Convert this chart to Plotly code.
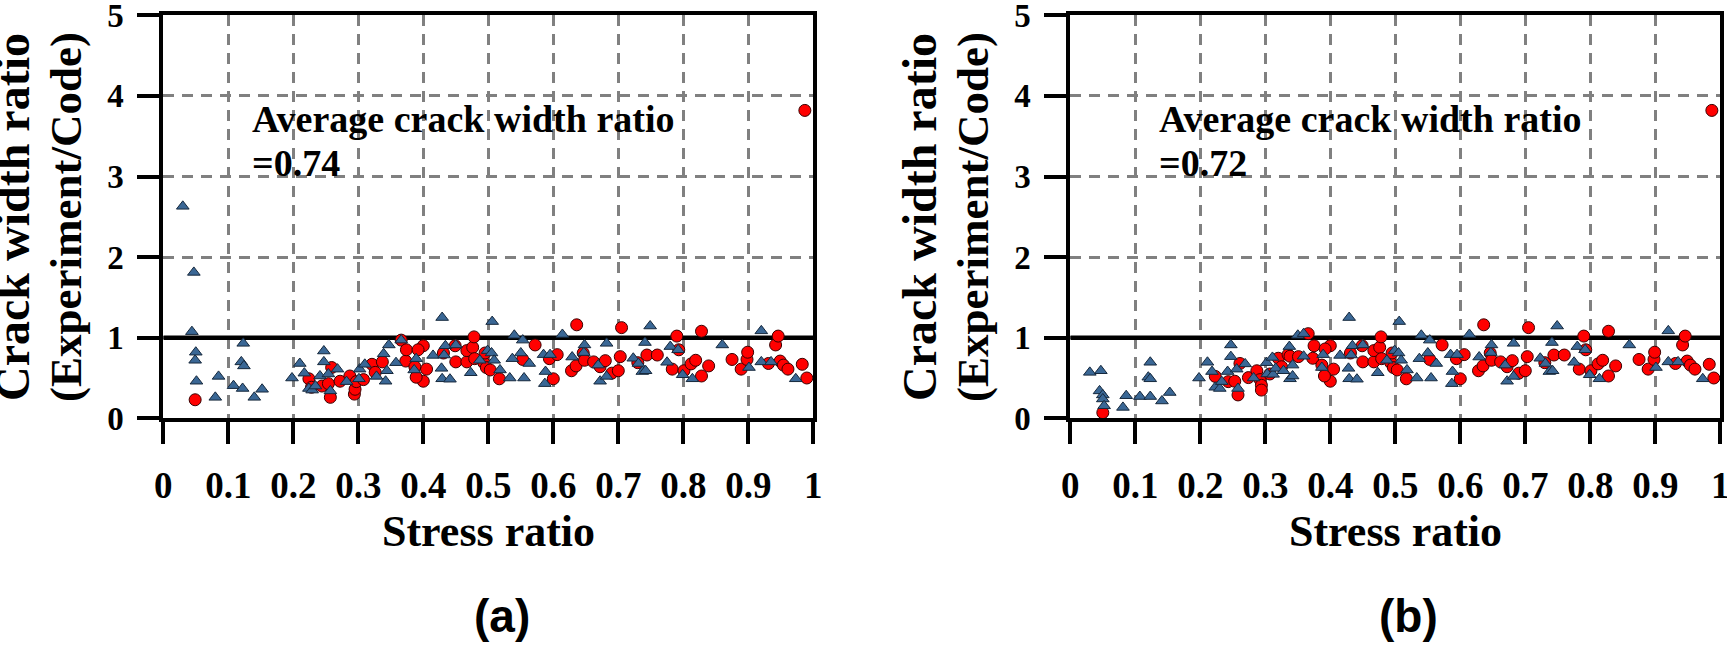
import plotly.graph_objects as go

# ---------------- data ----------------
# Points with stress ratio >= 0.40 are identical in both panels
tri_common_x = [0.415, 0.428, 0.429, 0.429, 0.432, 0.434, 0.441, 0.450, 0.473, 0.487,
                0.499, 0.505, 0.506, 0.509, 0.518, 0.533, 0.537, 0.540, 0.550, 0.553,
                0.555, 0.563, 0.585, 0.587, 0.588, 0.595, 0.614, 0.629, 0.647, 0.648,
                0.669, 0.672, 0.682, 0.682, 0.723, 0.731, 0.737, 0.741, 0.742, 0.749,
                0.775, 0.780, 0.792, 0.799, 0.814, 0.860, 0.901, 0.920, 0.920, 0.935,
                0.973]
tri_common_y = [0.78, 0.62, 0.49, 1.25, 0.785, 0.90, 0.485, 0.91, 0.565, 0.72,
                0.84, 0.81, 1.20, 0.72, 0.60, 0.50, 0.74, 1.03, 0.81, 0.97,
                0.50, 0.68, 0.79, 0.43, 0.58, 0.79, 1.04, 0.76, 0.815, 0.91,
                0.66, 0.46, 0.52, 0.93, 0.745, 0.68, 0.58, 0.94, 0.59, 1.145,
                0.695, 0.89, 0.85, 0.54, 0.49, 0.91, 0.63, 1.085, 0.70, 0.70,
                0.49]

circ_common_x = [0.400, 0.400, 0.405, 0.431, 0.449, 0.450, 0.467, 0.467, 0.476, 0.478,
                 0.479, 0.493, 0.495, 0.497, 0.503, 0.517, 0.553, 0.572, 0.594, 0.600,
                 0.606, 0.628, 0.635, 0.636, 0.646, 0.648, 0.662, 0.672, 0.680, 0.690,
                 0.700, 0.703, 0.705, 0.730, 0.744, 0.760, 0.783, 0.790, 0.793, 0.801,
                 0.812, 0.819, 0.828, 0.828, 0.839, 0.875, 0.889, 0.898, 0.899, 0.931,
                 0.942, 0.946, 0.949, 0.954, 0.961, 0.983, 0.990, 0.987]
circ_common_y = [0.90, 0.46, 0.61, 0.81, 0.90, 0.70, 0.70, 0.84, 0.88, 1.01,
                 0.74, 0.69, 0.81, 0.63, 0.60, 0.49, 0.73, 0.91, 0.74, 0.49,
                 0.79, 0.59, 0.65, 1.16, 0.81, 0.72, 0.70, 0.64, 0.715, 0.56,
                 0.59, 0.765, 1.125, 0.69, 0.785, 0.785, 0.61, 1.02, 0.85, 0.59,
                 0.675, 0.72, 1.08, 0.525, 0.65, 0.73, 0.61, 0.73, 0.82, 0.68,
                 0.91, 1.02, 0.71, 0.66, 0.61, 0.67, 0.50, 3.82]

# Panel (a), stress ratio < 0.40
tri_a_low_x = [0.030, 0.044, 0.047, 0.049, 0.050, 0.051, 0.080, 0.085, 0.108, 0.120,
               0.122, 0.123, 0.124, 0.140, 0.152, 0.198, 0.210, 0.217, 0.224, 0.229,
               0.234, 0.241, 0.247, 0.247, 0.254, 0.257, 0.268, 0.282, 0.301, 0.302,
               0.310, 0.328, 0.339, 0.342, 0.344, 0.347, 0.358, 0.366, 0.386, 0.389]
tri_a_low_y = [2.63, 1.075, 1.81, 0.72, 0.82, 0.46, 0.26, 0.52, 0.405, 0.70,
               0.37, 0.93, 0.65, 0.26, 0.36, 0.50, 0.68, 0.56, 0.37, 0.35,
               0.40, 0.525, 0.835, 0.70, 0.55, 0.34, 0.61, 0.455, 0.49, 0.61,
               0.67, 0.52, 0.80, 0.46, 0.59, 0.91, 0.69, 0.97, 0.60, 0.74]
circ_a_low_x = [0.049, 0.224, 0.228, 0.244, 0.254, 0.257, 0.259, 0.272, 0.287, 0.294,
                0.295, 0.297, 0.308, 0.321, 0.326, 0.337, 0.366, 0.373, 0.374, 0.387,
                0.389, 0.392]
circ_a_low_y = [0.23, 0.49, 0.385, 0.40, 0.43, 0.26, 0.63, 0.46, 0.525, 0.30,
                0.36, 0.455, 0.48, 0.67, 0.57, 0.70, 0.97, 0.71, 0.85, 0.64,
                0.51, 0.85]

# Panel (b), stress ratio < 0.40
tri_b_low_x = [0.030, 0.045, 0.047, 0.050, 0.050, 0.052, 0.081, 0.086, 0.107, 0.120,
               0.123, 0.123, 0.123, 0.141, 0.153, 0.198, 0.211, 0.218, 0.223, 0.230,
               0.233, 0.242, 0.247, 0.247, 0.256, 0.258, 0.269, 0.282, 0.302, 0.303,
               0.311, 0.312, 0.316, 0.328, 0.337, 0.338, 0.342, 0.342, 0.350, 0.359,
               0.359, 0.387, 0.389]
tri_b_low_y = [0.57, 0.34, 0.59, 0.29, 0.24, 0.155, 0.135, 0.28, 0.27, 0.51,
               0.49, 0.27, 0.695, 0.215, 0.32, 0.50, 0.695, 0.58, 0.385, 0.37,
               0.455, 0.58, 0.91, 0.765, 0.61, 0.37, 0.675, 0.50, 0.69, 0.55,
               0.755, 0.545, 0.62, 0.59, 0.89, 0.49, 0.66, 0.525, 1.03, 1.05,
               0.77, 0.63, 0.79]
circ_b_low_x = [0.050, 0.223, 0.243, 0.253, 0.258, 0.261, 0.274, 0.287, 0.292, 0.294,
                0.294, 0.307, 0.320, 0.325, 0.335, 0.338, 0.351, 0.366, 0.373, 0.375,
                0.387, 0.391, 0.392]
circ_b_low_y = [0.07, 0.52, 0.455, 0.46, 0.29, 0.68, 0.505, 0.59, 0.48, 0.41,
                0.35, 0.55, 0.745, 0.64, 0.79, 0.77, 0.765, 1.05, 0.745, 0.90,
                0.66, 0.525, 0.86]

panel_labels = ["(a)", "(b)"]
average_labels = ["=0.74", "=0.72"]
reference_ratio = 1.0
x_title = "Stress ratio"
y_title_lines = ["Crack width ratio", "(Experiment/Code)"]
note_text = "Average crack width ratio"

# ---------------- styling / layout ----------------
W, H = 1727, 645
SERIF = "Liberation Serif, Times New Roman, serif"
SANS = "Liberation Sans, Arial, sans-serif"
TRI_FILL, TRI_LINE = "#3A6795", "#16283C"
CIRC_FILL, CIRC_LINE = "#FF0000", "#3A0000"
CLEAR = "rgba(0,0,0,0)"


def px(X):
    return X / W


def py(Y):
    return 1 - Y / H


PLOT_TOP, PLOT_BOTTOM = 15.3, 418.3
panel_left = [163.3, 1070.3]
PLOT_W = 650.0

fig = go.Figure()

panel_data = [
    (tri_common_x + tri_a_low_x, tri_common_y + tri_a_low_y,
     circ_common_x + circ_a_low_x, circ_common_y + circ_a_low_y),
    (tri_common_x + tri_b_low_x, tri_common_y + tri_b_low_y,
     circ_common_x + circ_b_low_x, circ_common_y + circ_b_low_y),
]

xtick_font = dict(family=SERIF, size=37, color="black", weight="bold")
ytick_font = dict(family=SERIF, size=33, color="black", weight="bold")

for i, (tx, ty, cx, cy) in enumerate(panel_data):
    main = ["", "2"][i]       # main axes: lines, ticks, grid
    over = ["3", "4"][i]      # overlay axes: tick labels (pushed away from the frame)
    xa, ya = "x" + main, "y" + main
    xo, yo = "x" + over, "y" + over

    # reference line at ratio = 1
    fig.add_trace(go.Scatter(x=[0, 1], y=[reference_ratio, reference_ratio], mode="lines",
                             line=dict(color="black", width=4.5), xaxis=xa, yaxis=ya,
                             hoverinfo="skip", showlegend=False))
    fig.add_trace(go.Scatter(x=cx, y=cy, mode="markers", xaxis=xa, yaxis=ya,
                             marker=dict(symbol="circle", size=12, color=CIRC_FILL,
                                         line=dict(color=CIRC_LINE, width=1)),
                             cliponaxis=False, showlegend=False))
    fig.add_trace(go.Scatter(x=tx, y=ty, mode="markers", xaxis=xo, yaxis=yo,
                             marker=dict(symbol="triangle-up", size=11, color=TRI_FILL,
                                         line=dict(color=TRI_LINE, width=1)),
                             cliponaxis=False, showlegend=False))

    L = panel_left[i]
    xdom = [px(L), px(L + PLOT_W)]
    ydom = [py(PLOT_BOTTOM), py(PLOT_TOP)]
    frame = dict(showline=True, linecolor="black", linewidth=4, mirror=True,
                 ticks="outside", ticklen=22, tickwidth=4, tickcolor="black",
                 showgrid=True, gridcolor="#808080", gridwidth=2.5, griddash="11px,8px",
                 zeroline=False, showticklabels=False, automargin=False)
    labels = dict(showline=False, showgrid=False, zeroline=False, ticks="outside",
                  tickcolor=CLEAR, tickwidth=1, automargin=False, ticklabeloverflow="allow")
    fig.update_layout(**{
        "xaxis" + main: dict(domain=xdom, range=[0, 1], dtick=0.1, tick0=0, anchor=ya, **frame),
        "yaxis" + main: dict(domain=ydom, range=[0, 5], dtick=1, tick0=0, anchor=xa, **frame),
        "xaxis" + over: dict(overlaying=xa, range=[0, 1], dtick=0.1, tick0=0, anchor=yo,
                             side="bottom", ticklen=34, tickfont=xtick_font, **labels),
        "yaxis" + over: dict(overlaying=ya, range=[0, 5], dtick=1, tick0=0, anchor=xo,
                             side="left", ticklen=32, tickfont=ytick_font, **labels),
    })

    off = L - panel_left[0]
    ann = [
        dict(text=note_text, x=px(250 + off), y=py(119), xanchor="left", yanchor="middle",
             font=dict(family=SERIF, size=38, color="black", weight="bold")),
        dict(text=average_labels[i], x=px(250 + off), y=py(163), xanchor="left", yanchor="middle",
             font=dict(family=SERIF, size=38, color="black", weight="bold")),
        dict(text=x_title, x=px(488.3 + off), y=py(531), xanchor="center", yanchor="middle",
             font=dict(family=SERIF, size=44, color="black", weight="bold")),
        dict(text=panel_labels[i], x=px(501.7 + off), y=py(616), xanchor="center", yanchor="middle",
             font=dict(family=SANS, size=46, color="black", weight="bold")),
        dict(text=y_title_lines[0], x=px(12 + off), y=py(217), xanchor="center", yanchor="middle",
             textangle=-90, font=dict(family=SERIF, size=48, color="black", weight="bold")),
        dict(text=y_title_lines[1], x=px(66 + off), y=py(217), xanchor="center", yanchor="middle",
             textangle=-90, font=dict(family=SERIF, size=45, color="black", weight="bold")),
    ]
    for a in ann:
        fig.add_annotation(xref="paper", yref="paper", showarrow=False, **a)

fig.update_layout(width=W, height=H, autosize=False,
                  margin=dict(l=0, r=0, t=0, b=0, pad=0),
                  paper_bgcolor="white", plot_bgcolor="white", showlegend=False)

fig.write_html(
    "out.html",
    config={"displayModeBar": False},
    post_script=("document.documentElement.style.margin='0';"
                 "document.documentElement.style.padding='0';"
                 "document.body.style.margin='0';document.body.style.padding='0';"
                 "document.body.style.overflow='hidden';"),
)
